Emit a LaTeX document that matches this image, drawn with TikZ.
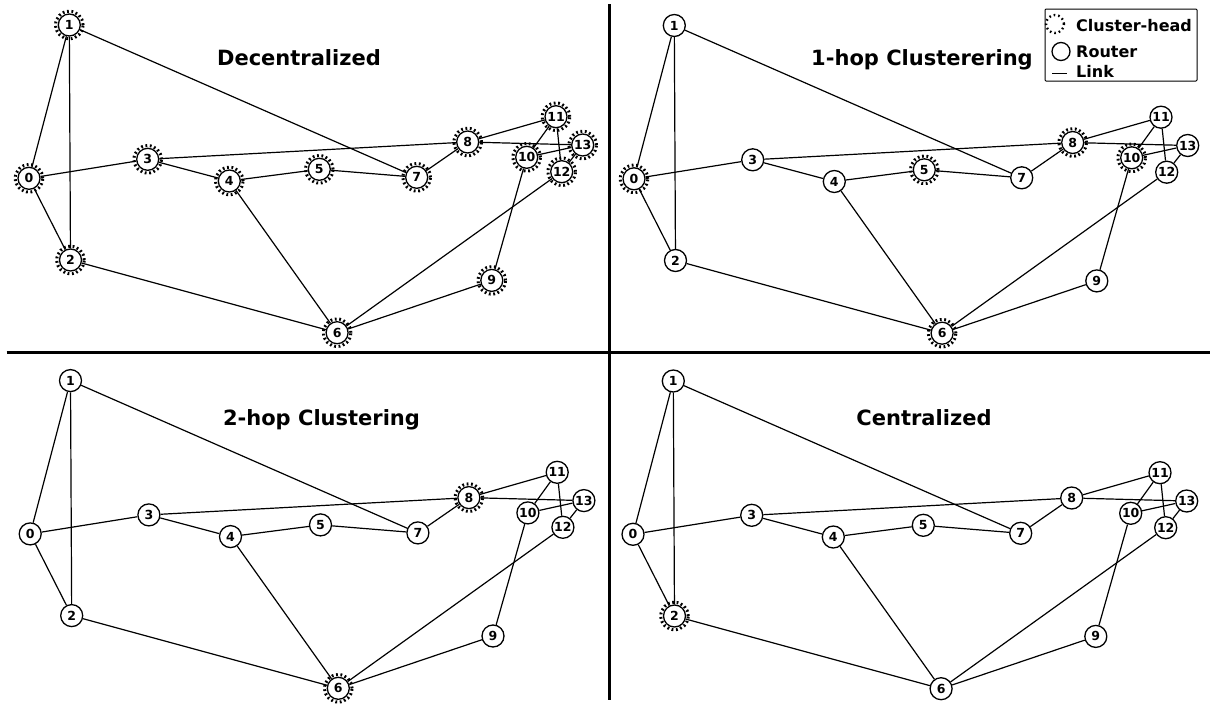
\documentclass[tikz,border=0pt]{standalone}
\usepackage{fontspec}
\setmainfont{DejaVu Sans}
\usepackage{tikz}
\usetikzlibrary{backgrounds}

\begin{document}
\begin{tikzpicture}[
  x=1pt, y=-1pt,
  router/.style={circle, draw, line width=1.3pt, fill=white, inner sep=0pt,
    minimum size=22pt, font=\fontsize{12.5}{14}\selectfont\bfseries},
  headring/.style={circle, draw, line width=3pt, dash pattern=on 1.8pt off 2.6pt,
    inner sep=0pt, minimum size=27.5pt},
  link/.style={line width=1.2pt},
  divider/.style={line width=3pt},
  title/.style={anchor=base, inner sep=0pt, font=\fontsize{21}{25}\selectfont\bfseries},
  keytext/.style={anchor=base west, inner sep=0pt, font=\fontsize{16}{19}\selectfont\bfseries}
]
\useasboundingbox (0,0) rectangle (1210,704);

% the same network in all four panels
\foreach \p/\sx/\sy in {a/0/0, b/605/0.5, c/1.2/355.6, d/604/356} {
  \begin{scope}[shift={(\sx,\sy)}]
    \foreach \n/\x/\y in {0/29/178.3, 1/69.3/25, 2/70.5/260, 3/147.7/159.3,
        4/229.3/181, 5/319.3/169.3, 6/337.1/332.7, 7/416.7/177.3,
        8/467.7/142, 9/491.8/280.4, 10/526.7/157.3, 11/556/116.7,
        12/561.7/171.7, 13/582.7/145}
      \node[router] (\p\n) at (\x,\y) {\n};
  \end{scope}
}

% cluster-heads
\foreach \n in {0,...,13} \node[headring] at (a\n) {};
\foreach \n in {0,5,6,8,10} \node[headring] at (b\n) {};
\foreach \n in {6,8} \node[headring] at (c\n) {};
\node[headring] at (d2) {};

% links
\begin{scope}[on background layer]
\foreach \p in {a,b,c,d}
  \foreach \u/\v in {0/1, 0/2, 0/3, 1/2, 1/7, 2/6, 3/4, 3/8, 4/5, 4/6, 5/7,
      7/8, 8/11, 8/13, 10/11, 10/13, 11/12, 12/13, 9/10, 6/12, 6/9}
    \draw[link] (\p\u) -- (\p\v);
\end{scope}

\node[title] (ta) at (299,65) {Decentralized};
\node[title] (tb) at (922,65) {1-hop Clusterering};
\node[title] (tc) at (321.5,425) {2-hop Clustering};
\node[title] (td) at (924,425) {Centralized};

% panel dividers
\coordinate (vtop) at (609.5,4);
\coordinate (vbot) at (609.5,700);
\coordinate (hleft) at (6.5,352.7);
\coordinate (hright) at (1210,352.7);
\draw[divider] (vtop) -- (vbot);
\draw[divider] (hleft) -- (hright);

% legend
\node[draw, line width=1pt, rounded corners=1pt, minimum width=152pt,
  minimum height=72pt, inner sep=0pt] (legend) at (1121,45) {};
\node[circle, draw, line width=2.4pt, dash pattern=on 1.6pt off 3pt,
  minimum size=18pt, inner sep=0pt] (keyhead) at (1055,24) {};
\node[circle, draw, line width=1.3pt, minimum size=18pt, inner sep=0pt] (keyrouter) at (1061,51.5) {};
\coordinate (keya) at (1052,73.5);
\coordinate (keyb) at (1067,73.5);
\draw[link] (keya) -- (keyb);
\node[keytext] (lhead) at (1076,31) {Cluster-head};
\node[keytext] (lrouter) at (1076,57) {Router};
\node[keytext] (llink) at (1076,77) {Link};
\end{tikzpicture}
\end{document}
